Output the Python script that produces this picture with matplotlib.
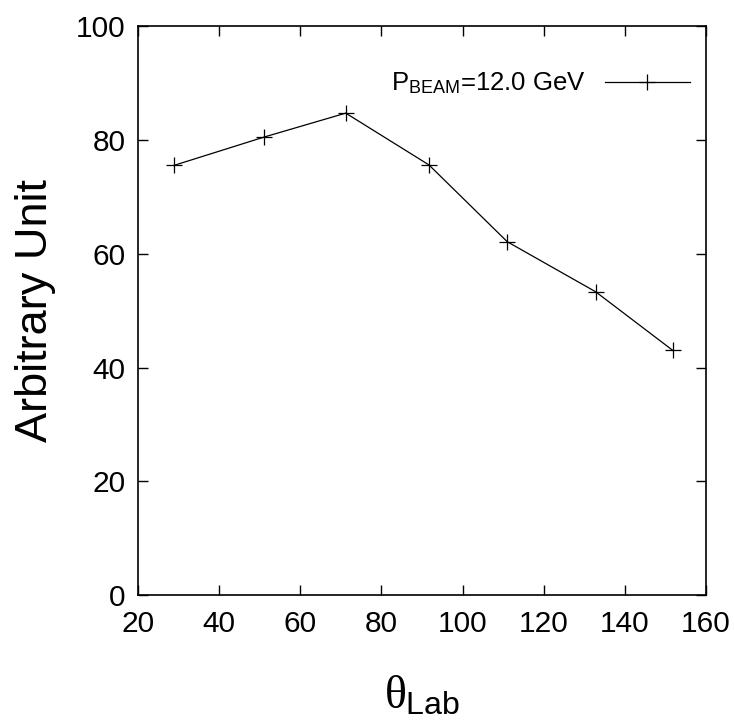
import matplotlib
matplotlib.use("Agg")
import matplotlib.pyplot as plt

theta_lab = [28.8, 51.1, 71.2, 91.7, 111.0, 132.8, 151.8]
arb_unit = [75.5, 80.5, 84.7, 75.6, 62.1, 53.3, 43.0]
xticks = [20, 40, 60, 80, 100, 120, 140, 160]
yticks = [0, 20, 40, 60, 80, 100]
series_label = r'P$_{\mathrm{BEAM}}$=12.0 GeV'

plt.rcParams['font.family'] = ['Liberation Sans', 'DejaVu Sans']
plt.rcParams['mathtext.fontset'] = 'custom'
plt.rcParams['mathtext.rm'] = 'Liberation Sans'
plt.rcParams['mathtext.it'] = 'Liberation Serif'
plt.rcParams['mathtext.bf'] = 'Liberation Sans:bold'

fig = plt.figure(figsize=(7.34, 7.24), dpi=100)
ax = fig.add_axes([0.188, 0.178, 0.774, 0.786])

ax.plot(theta_lab, arb_unit, color='black', lw=0.9, marker='+',
        markersize=11, markeredgewidth=0.9, label=series_label)

ax.set_xlim(20, 160)
ax.set_ylim(0, 100)
ax.set_xticks(xticks)
ax.set_yticks(yticks)
ax.tick_params(direction='in', length=7, width=1, top=True, right=True,
               labelsize=21.5)
ax.tick_params(axis='x', pad=11)
ax.tick_params(axis='y', pad=9)
for s in ax.spines.values():
    s.set_linewidth(1.2)

ax.set_ylabel('Arbitrary Unit', fontsize=32.5, labelpad=14)
ax.set_xlabel(r'$\theta_{\mathrm{Lab}}$', fontsize=33, labelpad=26)

leg = ax.legend(loc='upper right', frameon=False, markerfirst=False,
                fontsize=18.5, handlelength=3.3, handletextpad=0.75,
                bbox_to_anchor=(1.012, 0.962))

fig.savefig('out.png', dpi=100)
